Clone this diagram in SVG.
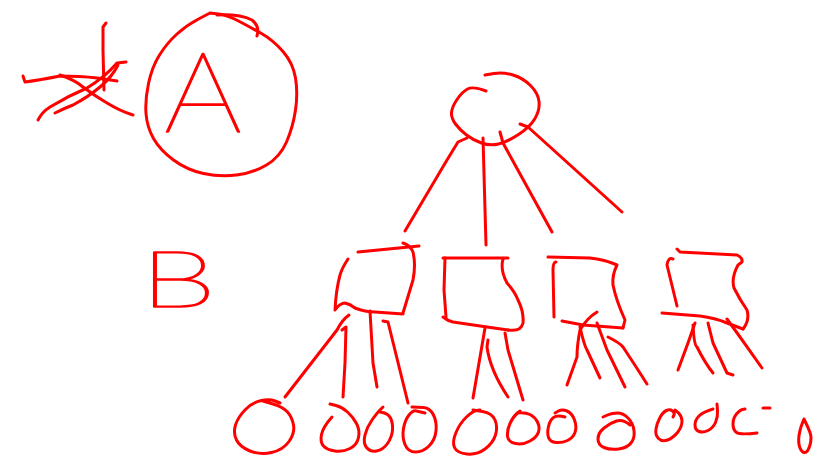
<svg xmlns="http://www.w3.org/2000/svg" width="824" height="463" viewBox="0 0 824 463">
<style>
.s{fill:none;stroke:#ff0000;stroke-width:3;stroke-linecap:round;stroke-linejoin:round}
.t{fill:#ff0000;stroke:#ff0000;stroke-width:1.6;stroke-linejoin:round;font-family:Lato,"DejaVu Sans",sans-serif;font-weight:100;text-anchor:middle}
</style>
<rect width="824" height="463" fill="#ffffff"/>
<g id="star" class="s">
<path d="M106,23 L103,27 L103,50 L104,90"/>
<path d="M23,76 L25,82 Q40,80 60,76 Q80,76 97,78 L117,81"/>
<path d="M60,75 Q75,80 83,87 Q95,96 107,103 Q120,111 133,115"/>
<path d="M38,120 Q42,112 50,107 Q68,96 87,88 Q105,77 117,63 L126,62"/>
<path d="M55,113 Q65,108 73,105 Q88,97 100,87 Q112,77 118,65"/>
</g>
<g id="nodeA">
<path class="s" d="M210,13 L198.5,19 Q187,25 177,34 Q167,43 159.5,55 Q152,67 148.5,83.5 Q145,100 146,113.5 Q147,127 153.5,138.5 Q160,150 173.5,160 Q187,170 203.5,173.5 Q220,177 236.5,175 Q253,173 266.5,165 Q280,157 286.5,142 Q293,127 295.5,110 Q298,93 295.5,78 Q293,63 283,51.5 Q273,40 261.5,33.5 Q250,27 238.5,21 Q227,15 218.5,14 L210,13"/>
<path class="s" d="M217,15 Q240,14 252,20 Q260,26 257,36"/>
<text class="t" x="203" y="132" font-size="112" textLength="78" lengthAdjust="spacingAndGlyphs">A</text>
</g>
<g id="labelB">
<text class="t" x="178" y="307" font-size="78" textLength="76" lengthAdjust="spacingAndGlyphs">B</text>
</g>
<g id="root" class="s">
<path d="M485,75 L494,73.5 Q503,72 513,75 Q523,78 530.5,85.5 Q538,93 539,101.5 Q540,110 535,118.5 Q530,127 518.5,134.5 Q507,142 498.5,144 Q490,146 481.5,143 Q473,140 466.5,135 Q460,130 455.5,124 Q451,118 451.5,112.5 Q452,107 457,99.5 Q462,92 467.5,89 Q473,86 486,91"/>
</g>
<g id="box1" class="s">
<path d="M358,252 L419,246"/>
<path d="M403,243 Q410,245 413,252 Q416,265 413,280 L403,313"/>
<path d="M348,259 Q342,268 340,275 Q336,290 335,310 Q340,303 345,303 Q350,304 355,308 Q365,312 375,312 L403,314"/>
</g>
<g id="box2" class="s">
<path d="M443,258 L508,258"/>
<path d="M445,258 L444,290 L446,317"/>
<path d="M503,259 Q500,270 507,283 Q515,292 518,300 Q524,312 523,323 Q521,332 508,330"/>
<path d="M443,317 Q448,321 453,322 L487,327 L508,330"/>
</g>
<g id="box3" class="s">
<path d="M548,257 L590,258 Q605,260 612,263 L617,265 Q612,275 613,285 Q616,300 625,320 L623,328"/>
<path d="M562,321 L583,325 L623,328"/>
<path d="M556,262 Q553,262 553,270 L554,317"/>
</g>
<g id="box4" class="s">
<path d="M677,249 L680,252 L737,255 Q743,258 742,262 L738,265 Q731,278 734,288 Q740,300 747,310 Q750,320 743,329"/>
<path d="M673,259 Q668,257 667,265 L677,306"/>
<path d="M662,313 L700,316 Q715,318 727,323 L743,329"/>
</g>
<g id="connectors" class="s">
<path d="M467,138 L458,142 L447,160 L405,231"/>
<path d="M483,138 L486,245"/>
<path d="M500,132 L503,143 L552,232"/>
<path d="M520,124 L528,127 L622,212"/>
<path d="M349,315 Q342,320 337,330 L285,397"/>
<path d="M342,330 L346,327 L345,363 L343,397"/>
<path d="M370,311 L373,363 L377,387"/>
<path d="M383,321 L388,322 L408,403"/>
<path d="M485,328 L473,398"/>
<path d="M488,340 L487,347 Q490,370 508,397"/>
<path d="M505,333 L508,350 L523,400"/>
<path d="M597,312 Q587,318 580,330 Q577,345 577,357 L567,385"/>
<path d="M580,327 Q584,345 587,350 L600,378"/>
<path d="M597,323 L607,350 L625,387"/>
<path d="M608,337 Q620,343 623,347 Q635,365 647,384"/>
<path d="M695,323 L688,343 L678,370"/>
<path d="M693,325 Q694,345 697,347 Q705,363 713,373"/>
<path d="M708,323 L713,343 L727,373 L733,375"/>
<path d="M727,319 L740,337 L762,368"/>
</g>
<g id="leaf1" class="s"><path d="M280,403 L275,401 Q270,399 261.5,400.5 Q253,402 245.5,409.5 Q238,417 235.5,425 Q233,433 236.5,440 Q240,447 250,451 Q260,455 271.5,452.5 Q283,450 289,441.5 Q295,433 293.5,425 Q292,417 287.5,412 Q283,407 273,404 L263,401"/></g>
<g id="leaf2" class="s"><path d="M330,404 L336,405.5 Q342,407 347.5,412 Q353,417 356.5,423.5 Q360,430 358.5,437.5 Q357,445 350,448.5 Q343,452 335,451 Q327,450 323.5,446 Q320,442 321.5,434.5 Q323,427 332,417"/></g>
<g id="leaf3" class="s"><path d="M383,407 L380,410 Q377,413 372,420 Q367,427 365,435 Q363,443 366.5,447.5 Q370,452 376.5,451 Q383,450 387.5,443.5 Q392,437 392.5,430 Q393,423 390.5,418 Q388,413 380,412"/></g>
<g id="leaf4" class="s"><path d="M425,413 L416.5,411 Q413,410 409,415 Q405,420 403.5,428.5 Q402,437 405,444.5 Q408,452 415.5,452 Q423,452 429,446 Q435,440 436,431 Q437,422 433.5,415 Q430,408 423.5,407.5 L412,407"/></g>
<g id="leaf5" class="s"><path d="M480,410 L476.5,410.5 Q473,411 466.5,417 Q460,423 456,432.5 Q452,442 454.5,447.5 Q457,453 467,454 Q477,455 485,449 Q493,443 495.5,435 Q498,427 495,420 Q492,413 482.5,411.5 L473,410"/></g>
<g id="leaf6" class="s"><path d="M520,411 L516.5,414 Q513,417 510,423.5 Q507,430 507.5,436 Q508,442 515.5,443.5 Q523,445 530,441 Q537,437 538.5,432 Q540,427 537.5,422 Q535,417 530,414.5 Q525,412 517,413"/></g>
<g id="leaf7" class="s"><path d="M555,413 L558.5,411 Q562,409 567,411 Q572,413 574.5,420 Q577,427 575,432.5 Q573,438 567.5,440.5 Q562,443 556,442.5 Q550,442 548.5,437.5 Q547,433 548.5,426.5 Q550,420 553.5,417.5 Q557,415 565,417"/></g>
<g id="leaf8" class="s"><path d="M603,417 L607.5,415 Q612,413 617.5,413 Q623,413 628,418 Q633,423 634,430.5 Q635,438 631,443 Q627,448 618.5,449 Q610,450 604,447.5 Q598,445 598,439 Q598,433 604,428 Q610,423 616.5,421 Q623,419 630,425"/></g>
<g id="leaf9" class="s"><path d="M673,417 L674,415 Q675,413 672.5,411 Q670,409 666.5,410.5 Q663,412 660,417.5 Q657,423 656,429 Q655,435 658.5,438.5 Q662,442 667.5,440 Q673,438 677.5,432.5 Q682,427 682,421 Q682,415 675,410"/></g>
<g id="leaf10" class="s"><path d="M717,404 L717.5,410.5 Q718,417 715.5,422.5 Q713,428 708,430.5 Q703,433 699,431.5 Q695,430 695,425 Q695,420 699,416 Q703,412 713,409"/></g>
<g id="leaf11" class="s"><path d="M745,409 L742.5,409.5 Q740,410 736.5,414 Q733,418 733,424 Q733,430 736.5,432.5 Q740,435 757,433"/><path d="M763,408 L770,408"/></g>
<g id="leaf12" class="s"><path d="M804,419 Q800,428 799,435.5 Q798,443 800,448 Q802,453 805,452.5 Q808,452 810,445 Q812,438 810,432.5 Q808,427 804,419"/></g>
</svg>
